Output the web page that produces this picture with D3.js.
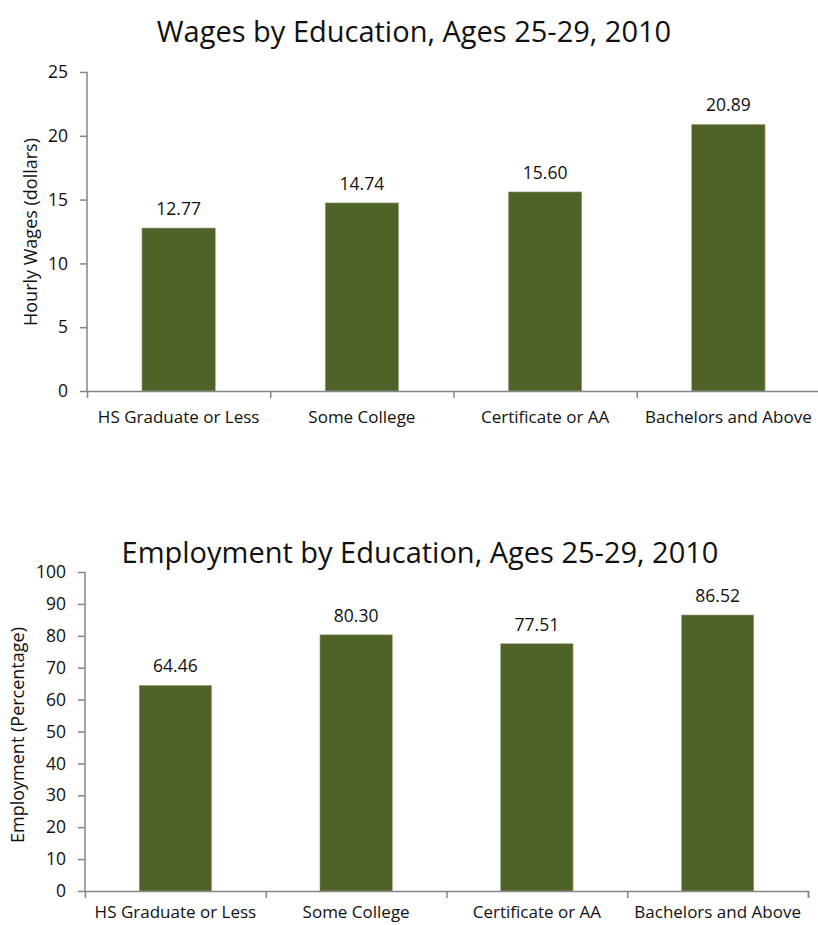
<!DOCTYPE html>
<html>
<head>
<meta charset="utf-8">
<script src="https://cdn.jsdelivr.net/npm/d3@7"></script>
<style>
  body { margin: 0; background: #fff; }
  svg text { font-family: "Open Sans", "Noto Sans", sans-serif; fill: #111; }
</style>
</head>
<body>
<div id="chart"></div>
<script>
// data
var categories = ["HS Graduate or Less", "Some College", "Certificate or AA", "Bachelors and Above"];
var wageValues = [12.77, 14.74, 15.60, 20.89];
var employmentValues = [64.46, 80.30, 77.51, 86.52];
var wageTicks = [0, 5, 10, 15, 20, 25];
var employmentTicks = [0, 10, 20, 30, 40, 50, 60, 70, 80, 90, 100];

var barColor = "#4f6228",
    axisColor = "#868686";

var svg = d3.select("#chart").append("svg")
    .attr("width", 818)
    .attr("height", 925);

function drawChart(opts) {
    var x = d3.scaleBand()
        .domain(categories)
        .range([opts.left, opts.right])
        .paddingInner(0.6)
        .paddingOuter(0.3);

    // boundaries between categories
    var xb = d3.scaleLinear().domain([0, categories.length]).range([opts.left, opts.right]);

    var y = d3.scaleLinear()
        .domain([0, opts.max])
        .range([opts.bottom, opts.top]);

    var g = svg.append("g");

    // title
    g.append("text")
        .attr("x", opts.titleX)
        .attr("y", opts.titleY)
        .attr("text-anchor", "middle")
        .style("font-size", "29px")
        .text(opts.title);

    // y axis
    var yAxis = g.append("g")
        .attr("transform", "translate(" + opts.left + ",0)")
        .call(d3.axisLeft(y).tickValues(opts.ticks).tickSize(7).tickPadding(12));
    yAxis.selectAll("text").style("font-size", "17.5px");

    // y title
    g.append("text")
        .attr("transform", "translate(" + opts.yTitleX + "," + opts.yTitleY + ") rotate(-90)")
        .attr("text-anchor", "middle")
        .style("font-size", "18px")
        .text(opts.yTitle);

    // bars
    g.selectAll(".bar")
        .data(opts.values)
        .enter().append("rect")
        .attr("class", "bar")
        .attr("x", function (d, i) { return x(categories[i]); })
        .attr("width", x.bandwidth())
        .attr("y", function (d) { return y(d); })
        .attr("height", function (d) { return y(0) - y(d); })
        .attr("fill", barColor)
        .attr("stroke", "#9aa584")
        .attr("stroke-width", 0.6);

    // value labels
    g.selectAll(".val")
        .data(opts.values)
        .enter().append("text")
        .attr("class", "val")
        .attr("x", function (d, i) { return x(categories[i]) + x.bandwidth() / 2; })
        .attr("y", function (d) { return y(d) - 13; })
        .attr("text-anchor", "middle")
        .style("font-size", "17.5px")
        .text(function (d) { return d3.format(".2f")(d); });

    // x axis: tick marks at category boundaries
    g.append("g")
        .attr("transform", "translate(0," + opts.bottom + ")")
        .call(d3.axisBottom(xb).tickValues(d3.range(1, categories.length + 1)).tickSize(7).tickFormat(""));

    // x axis: category labels
    var xAxis = g.append("g")
        .attr("transform", "translate(0," + opts.bottom + ")")
        .call(d3.axisBottom(x).tickSize(0).tickPadding(opts.labelPad));
    xAxis.select(".domain").remove();
    xAxis.selectAll("text").style("font-size", "17px");

    g.selectAll(".domain, .tick line")
        .attr("stroke", axisColor)
        .attr("stroke-width", 1.5);
    yAxis.select(".domain").attr("d", "M0," + opts.top + "V" + opts.bottom);
}

drawChart({
    title: "Wages by Education, Ages 25-29, 2010",
    titleX: 414, titleY: 42,
    yTitle: "Hourly Wages (dollars)",
    yTitleX: 37, yTitleY: 232,
    values: wageValues, ticks: wageTicks, max: 25,
    left: 87, right: 820, top: 72, bottom: 391, labelPad: 20
});

drawChart({
    title: "Employment by Education, Ages 25-29, 2010",
    titleX: 420, titleY: 563,
    yTitle: "Employment (Percentage)",
    yTitleX: 24, yTitleY: 735,
    values: employmentValues, ticks: employmentTicks, max: 100,
    left: 85, right: 808, top: 572, bottom: 891, labelPad: 15
});
</script>
</body>
</html>
